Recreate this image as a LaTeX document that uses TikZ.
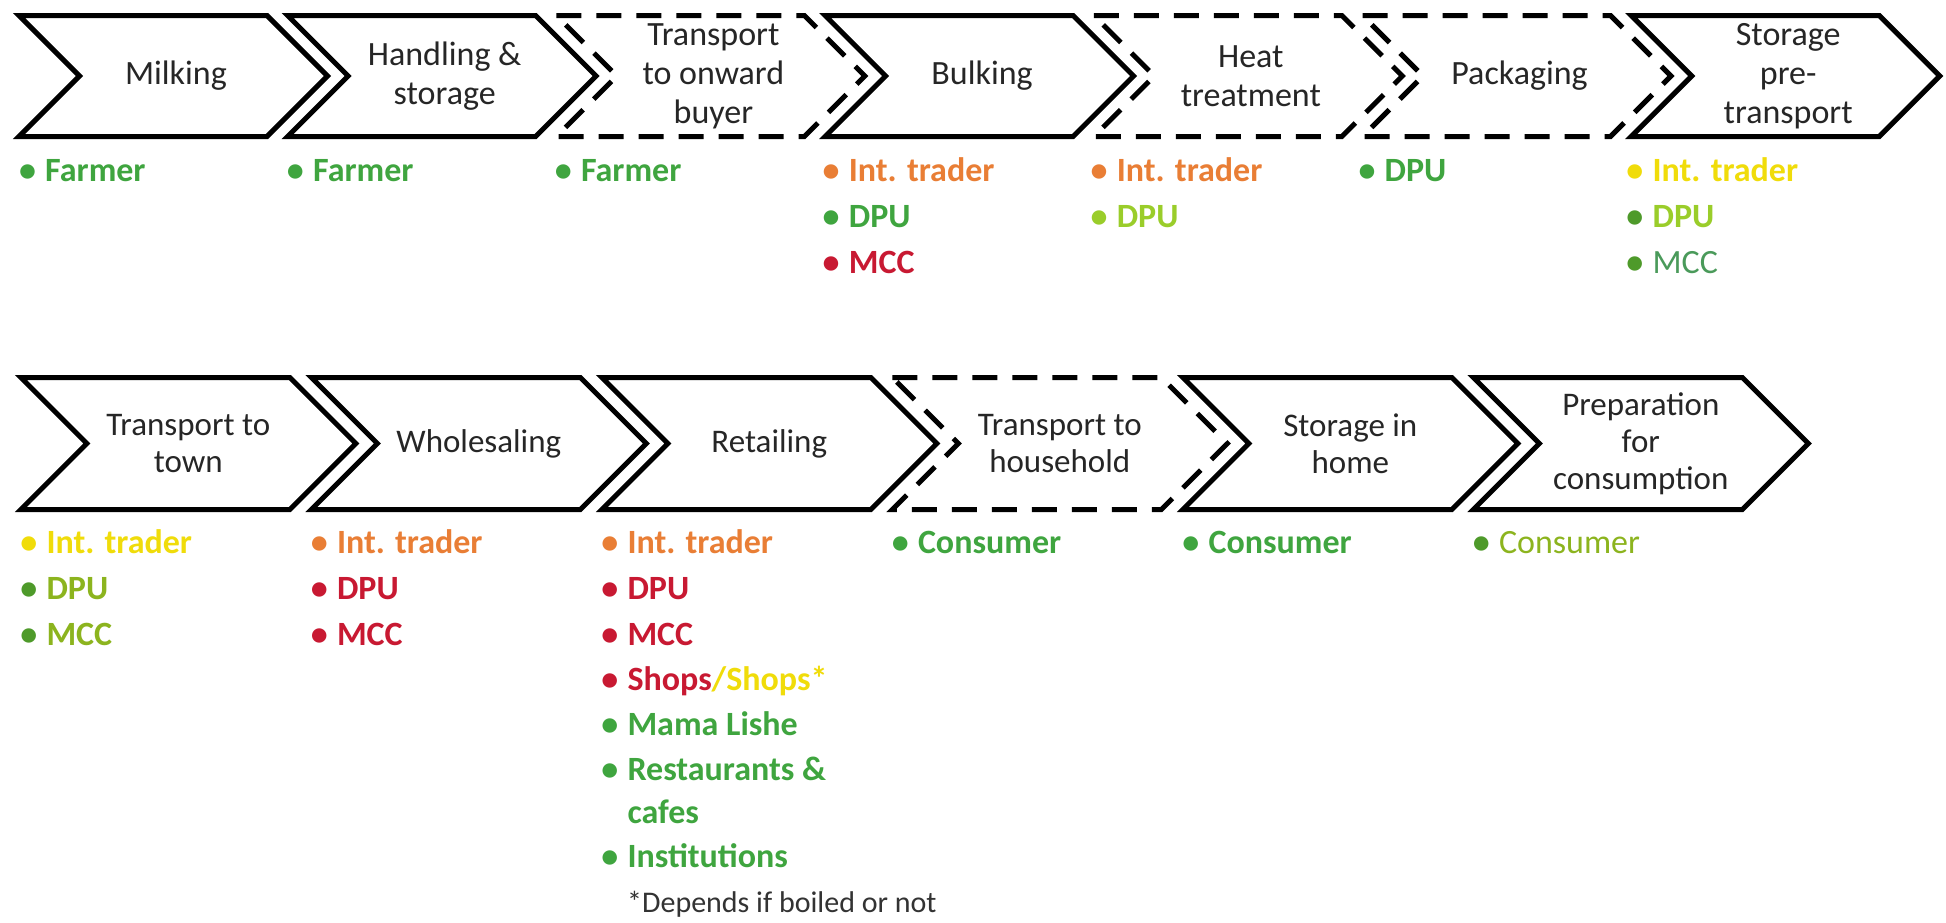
\documentclass[tikz,border=0pt]{standalone}
\usepackage{fontspec}
\setmainfont{Carlito}

\definecolor{txt}{HTML}{262626}
\definecolor{grn}{HTML}{3FA53F}
\definecolor{org}{HTML}{E97E35}
\definecolor{redc}{HTML}{C81932}
\definecolor{ylw}{HTML}{F0DC0A}
\definecolor{lgrn}{HTML}{9ACD2A}
\definecolor{olv}{HTML}{8CB41E}
\definecolor{dgrn}{HTML}{4E9A2A}
\definecolor{mgrn}{HTML}{4A9A5A}
\definecolor{note}{HTML}{333333}

\newcommand\stepfont{\fontsize{34}{39}\selectfont}
\newcommand\stepfontb{\fontsize{33}{37}\selectfont}
\newcommand\rolefont{\bfseries\fontsize{34}{40}\selectfont}
\newcommand\rolefontlight{\fontsize{34}{40}\selectfont}

\tikzset{
  chev/.style={draw=black, line width=5pt, line join=miter},
  chevdash/.style={chev, dash pattern=on 25pt off 15pt},
  steptext/.style={align=center, text=txt, font=\stepfont, inner sep=0pt},
  steptextb/.style={align=center, text=txt, font=\stepfontb, inner sep=0pt},
  role/.style={anchor=base west, inner sep=0pt, font=\rolefont},
  rolelight/.style={anchor=base west, inner sep=0pt, font=\rolefontlight},
  bul/.style={anchor=base, inner sep=0pt, font=\rolefont},
}

% chevron of the upper row: index, style, node name, label
\newcommand\topchev[4]{%
  \pgfmathsetmacro\chevL{19+268.7*#1}
  \draw[#2] (\chevL,15.5) -- ++(248,0) -- ++(60.5,60.5) -- ++(-60.5,60.5)
    -- ++(-248,0) -- ++(60.5,-60.5) -- cycle;
  \node[steptext] (#3) at (\chevL+157,76) {#4};}

% chevron of the lower row: index, style, node name, label
\newcommand\botchev[4]{%
  \pgfmathsetmacro\chevL{20.8+290.5*#1}
  \draw[#2] (\chevL,377.5) -- ++(269,0) -- ++(66,66) -- ++(-66,66)
    -- ++(-269,0) -- ++(66,-66) -- cycle;
  \node[steptextb] (#3) at (\chevL+167.5,443.5) {#4};}

% one bulleted actor line: name, bullet x, baseline y, bullet colour, text style, text
\newcommand\roleline[6]{%
  \node[bul, text=#4] (#1-b) at (#2,#3) {•};
  \node[#5] (#1) at (#2+17.5,#3) {#6};}

\begin{document}
\begin{tikzpicture}[x=1pt, y=-1pt]
\fill[white] (0,0) rectangle (1946,922);
\useasboundingbox (0,0) rectangle (1946,922);

% ---------- upper row of steps ----------
\topchev{0}{chev}{milking}{Milking}
\topchev{1}{chev}{handling}{Handling \&\\storage}
\topchev{2}{chevdash}{onward}{Transport\\to onward\\buyer}
\topchev{3}{chev}{bulking}{Bulking}
\topchev{4}{chevdash}{heat}{Heat\\treatment}
\topchev{5}{chevdash}{packaging}{Packaging}
\topchev{6}{chev}{storepre}{Storage\\pre-\\transport}

% actors under the upper row
\roleline{r1a}{27.5}{181}{grn}{role, text=grn}{Farmer}
\roleline{r2a}{295.4}{181}{grn}{role, text=grn}{Farmer}
\roleline{r3a}{563.3}{181}{grn}{role, text=grn}{Farmer}
\roleline{r4a}{831.2}{181}{org}{role, text=org}{Int. trader}
\roleline{r4b}{831.2}{227}{grn}{role, text=grn}{DPU}
\roleline{r4c}{831.2}{273}{redc}{role, text=redc}{MCC}
\roleline{r5a}{1099.1}{181}{org}{role, text=org}{Int. trader}
\roleline{r5b}{1099.1}{227}{lgrn}{role, text=lgrn}{DPU}
\roleline{r6a}{1367.0}{181}{grn}{role, text=grn}{DPU}
\roleline{r7a}{1634.9}{181}{ylw}{role, text=ylw}{Int. trader}
\roleline{r7b}{1634.9}{227}{dgrn}{role, text=lgrn}{DPU}
\roleline{r7c}{1634.9}{273}{dgrn}{rolelight, text=mgrn}{MCC}

% ---------- lower row of steps ----------
\botchev{0}{chev}{town}{Transport to\\town}
\botchev{1}{chev}{wholesale}{Wholesaling}
\botchev{2}{chev}{retail}{Retailing}
\botchev{3}{chevdash}{household}{Transport to\\household}
\botchev{4}{chev}{home}{Storage in\\home}
\botchev{5}{chev}{prep}{Preparation\\for\\consumption}

% actors under the lower row
\roleline{s1a}{28.8}{553}{ylw}{role, text=ylw}{Int. trader}
\roleline{s1b}{28.8}{599}{dgrn}{role, text=olv}{DPU}
\roleline{s1c}{28.8}{645}{dgrn}{role, text=olv}{MCC}
\roleline{s2a}{319.3}{553}{org}{role, text=org}{Int. trader}
\roleline{s2b}{319.3}{599}{redc}{role, text=redc}{DPU}
\roleline{s2c}{319.3}{645}{redc}{role, text=redc}{MCC}
\roleline{s3a}{609.8}{553}{org}{role, text=org}{Int. trader}
\roleline{s3b}{609.8}{599}{redc}{role, text=redc}{DPU}
\roleline{s3c}{609.8}{645}{redc}{role, text=redc}{MCC}
\roleline{s3d}{609.8}{690}{redc}{role, text=redc}{Shops\textcolor{ylw}{/Shops*}}
\roleline{s3e}{609.8}{735}{grn}{role, text=grn}{Mama Lishe}
\roleline{s3f}{609.8}{780}{grn}{role, text=grn}{Restaurants \&}
\node[role, text=grn] (s3f2) at (627.3,823) {cafes};
\roleline{s3g}{609.8}{867}{grn}{role, text=grn}{Institutions}
\node[anchor=base west, inner sep=0pt, text=note, font=\fontsize{30}{36}\selectfont]
  (footnote) at (627,912) {*Depends if boiled or not};
\roleline{s4a}{900.3}{553}{grn}{role, text=grn}{Consumer}
\roleline{s5a}{1190.8}{553}{grn}{role, text=grn}{Consumer}
\roleline{s6a}{1481.3}{553}{dgrn}{rolelight, text=olv}{Consumer}
\end{tikzpicture}
\end{document}
